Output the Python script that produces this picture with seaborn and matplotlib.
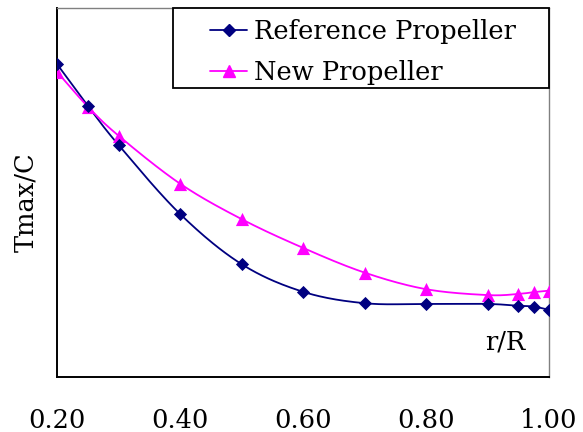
import numpy as np
import pandas as pd
import seaborn as sns
import matplotlib
matplotlib.use("Agg")
import matplotlib.pyplot as plt
from matplotlib.lines import Line2D
from matplotlib.patches import Rectangle

# Radial stations and non-dimensional maximum thickness (relative units)
r_R = [0.20, 0.25, 0.30, 0.40, 0.50, 0.60, 0.70, 0.80, 0.90, 0.95, 0.975, 1.00]
tmax_reference = [0.848, 0.735, 0.629, 0.442, 0.306, 0.231, 0.200, 0.198, 0.198, 0.193, 0.191, 0.182]
tmax_new = [0.827, 0.733, 0.654, 0.524, 0.428, 0.350, 0.283, 0.238, 0.222, 0.225, 0.230, 0.234]
series_names = ["Reference Propeller", "New Propeller"]
x_ticks = [0.20, 0.40, 0.60, 0.80, 1.00]

NAVY = "#000080"
MAGENTA = "#FF00FF"
FONT = "DejaVu Serif"
FS = 18.5


def smooth_curve(x, y, n=30, xs=615.0, ys=369.0):
    """Catmull-Rom smoothing through the points (computed in screen-like units)."""
    p = np.column_stack([np.asarray(x) * xs, np.asarray(y) * ys])
    p = np.vstack([p[0] - (p[1] - p[0]), p, p[-1] + (p[-1] - p[-2])])
    out = []
    t = np.linspace(0, 1, n, endpoint=False)[:, None]
    for i in range(1, len(p) - 2):
        p0, p1, p2, p3 = p[i - 1], p[i], p[i + 1], p[i + 2]
        seg = 0.5 * ((2 * p1) + (-p0 + p2) * t + (2 * p0 - 5 * p1 + 4 * p2 - p3) * t ** 2
                     + (-p0 + 3 * p1 - 3 * p2 + p3) * t ** 3)
        out.append(seg)
    out.append(p[-2][None, :])
    out = np.vstack(out)
    return out[:, 0] / xs, out[:, 1] / ys


sns.set_style("white")
plt.rcParams["font.family"] = [FONT, "DejaVu Sans"]
plt.rcParams["text.color"] = "black"
plt.rcParams["axes.labelcolor"] = "black"
plt.rcParams["xtick.labelcolor"] = "black"

fig = plt.figure(figsize=(5.83, 4.32), dpi=100)
ax = fig.add_axes([57 / 583, 1 - 377 / 432, 492 / 583, 369 / 432])

points = pd.DataFrame({
    "r/R": r_R * 2,
    "Tmax/C": tmax_reference + tmax_new,
    "series": [series_names[0]] * len(r_R) + [series_names[1]] * len(r_R),
})

curves = []
for name, vals in zip(series_names, [tmax_reference, tmax_new]):
    sx, sy = smooth_curve(r_R, vals)
    curves.append(pd.DataFrame({"r/R": sx, "Tmax/C": sy, "series": name}))
curves = pd.concat(curves, ignore_index=True)

palette = {series_names[0]: NAVY, series_names[1]: MAGENTA}
sns.lineplot(data=curves, x="r/R", y="Tmax/C", hue="series", palette=palette,
             sort=False, estimator=None, linewidth=1.3, legend=False, ax=ax)
sns.scatterplot(data=points[points["series"] == series_names[0]], x="r/R", y="Tmax/C",
                color=NAVY, marker="D", s=45, edgecolor=NAVY, linewidth=0, ax=ax,
                zorder=4, legend=False)
sns.scatterplot(data=points[points["series"] == series_names[1]], x="r/R", y="Tmax/C",
                color=MAGENTA, marker="^", s=90, edgecolor=MAGENTA, linewidth=0, ax=ax,
                zorder=3, legend=False)

ax.set_xlim(0.2, 1.0)
ax.set_ylim(0, 1)
ax.set_xticks(x_ticks)
ax.set_xticklabels([f"{v:.2f}" for v in x_ticks], fontsize=FS, family=FONT, color="black")
ax.set_yticks([0, 1])
ax.set_yticklabels([])
ax.tick_params(axis="x", direction="in", length=8, width=1, color="#808080", pad=22)
ax.tick_params(axis="y", direction="out", length=6, width=1.2, color="black")

for side in ["left", "bottom"]:
    ax.spines[side].set_color("black")
    ax.spines[side].set_linewidth(1.4)
for side in ["top", "right"]:
    ax.spines[side].set_color("#808080")
    ax.spines[side].set_linewidth(1.0)

ax.set_xlabel("")
ax.set_ylabel("Tmax/C", fontsize=FS, family=FONT, va="center", color="black")
ax.yaxis.set_label_coords(-0.063, 0.474)
ax.text(0.911, 0.095, "r/R", transform=ax.transAxes, ha="center", va="center",
        fontsize=FS, family=FONT, color="black")

# Legend box
ax.add_patch(Rectangle((0.2358, 0.783), 0.7642, 0.217, transform=ax.transAxes,
                       facecolor="white", edgecolor="black", linewidth=1.3,
                       clip_on=False, zorder=5))
handles = [
    Line2D([], [], color=NAVY, marker="D", markersize=6, linewidth=1.3),
    Line2D([], [], color=MAGENTA, marker="^", markersize=8, linewidth=1.3),
]
leg = ax.legend(handles, series_names, loc="upper left", bbox_to_anchor=(0.311, 0.97),
                frameon=False, borderpad=0, borderaxespad=0, handlelength=1.45,
                handletextpad=0.25, labelspacing=0.62, prop={"family": FONT, "size": FS})
for txt in leg.get_texts():
    txt.set_color("black")
leg.set_zorder(6)

fig.savefig("out.png", dpi=100)
